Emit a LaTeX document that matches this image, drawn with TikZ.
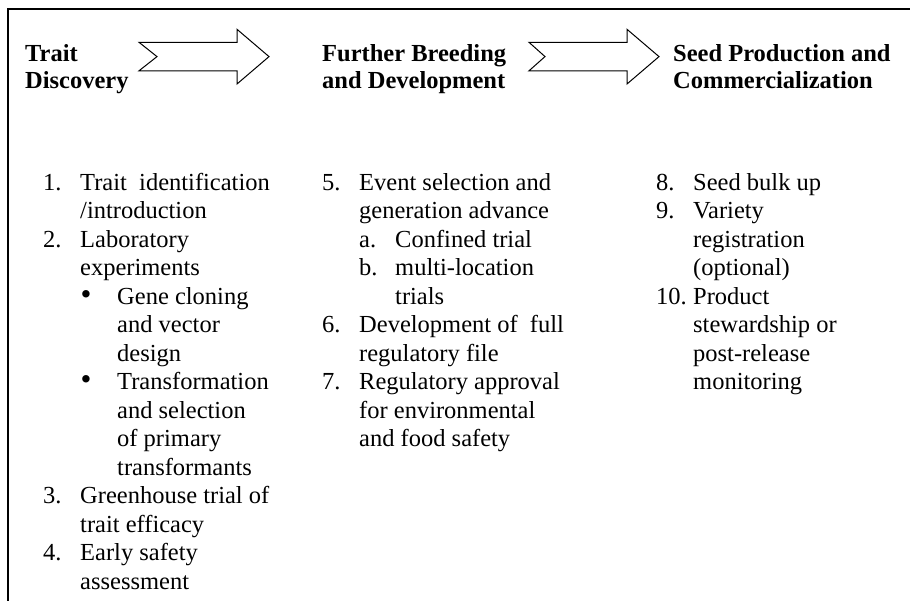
\documentclass[tikz,border=0pt]{standalone}
\usepackage{fontspec}
\setmainfont{Liberation Serif}
\begin{document}
\begin{tikzpicture}[x=1pt,y=-1pt,
  txt/.style={anchor=base west,inner sep=0pt,font=\fontsize{24.5}{28.5}\selectfont},
  head/.style={txt,font=\fontsize{24.5}{28.5}\selectfont\bfseries},
  bul/.style={anchor=base,inner sep=0pt,font=\fontsize{31}{31}\selectfont},
  bigarrow/.style={draw=black,line width=1pt,fill=white,line join=miter}]
\useasboundingbox (0,0) rectangle (910,600);
% frame (only top and left edges fall inside the picture)
\draw[line width=1.3pt] (8,620) -- (8,9) -- (930,9);
% headings
\node[head] (h1a) at (25,61) {Trait};
\node[head] (h1b) at (25,88.5) {Discovery};
\node[head] (h2a) at (322,61) {Further Breeding};
\node[head] (h2b) at (322,88.5) {and Development};
\node[head] (h3a) at (673,61) {Seed Production and};
\node[head] (h3b) at (673,88.5) {Commercialization};
% arrows
\draw[bigarrow] (139,42.3) -- (237,42.3) -- (237,29.3) -- (269,56.6) -- (237,84) -- (237,70.8) -- (139,70.8) -- (157,56.6) -- cycle;
\draw[bigarrow] (529,42.3) -- (627,42.3) -- (627,29.3) -- (659,56.6) -- (627,84) -- (627,70.8) -- (529,70.8) -- (545,56.6) -- cycle;
% column 1
\node[txt] (n1) at (43,190) {1.};
\node[txt] (t1a) at (80,190) {Trait\ \ identification};
\node[txt] (t1b) at (80,218.5) {/introduction};
\node[txt] (n2) at (43,247) {2.};
\node[txt] (t2a) at (80,247) {Laboratory};
\node[txt] (t2b) at (80,275.5) {experiments};
\node[bul] (b1) at (86,304) {•};
\node[txt] (t2c) at (117,304) {Gene cloning};
\node[txt] (t2d) at (117,332.5) {and vector};
\node[txt] (t2e) at (117,361) {design};
\node[bul] (b2) at (86,389.5) {•};
\node[txt] (t2f) at (117,389.5) {Transformation};
\node[txt] (t2g) at (117,418) {and selection};
\node[txt] (t2h) at (117,446.5) {of primary};
\node[txt] (t2i) at (117,475) {transformants};
\node[txt] (n3) at (43,503.5) {3.};
\node[txt] (t3a) at (80,503.5) {Greenhouse trial of};
\node[txt] (t3b) at (80,532) {trait efficacy};
\node[txt] (n4) at (43,560.5) {4.};
\node[txt] (t4a) at (80,560.5) {Early safety};
\node[txt] (t4b) at (80,589) {assessment};
% column 2
\node[txt] (n5) at (322,190) {5.};
\node[txt] (t5a) at (359,190) {Event selection and};
\node[txt] (t5b) at (359,218.5) {generation advance};
\node[txt] (la) at (359,247) {a.};
\node[txt] (t5c) at (395,247) {Confined trial};
\node[txt] (lb) at (359,275.5) {b.};
\node[txt] (t5d) at (395,275.5) {multi-location};
\node[txt] (t5e) at (395,304) {trials};
\node[txt] (n6) at (322,332.5) {6.};
\node[txt] (t6a) at (359,332.5) {Development of\ \ full};
\node[txt] (t6b) at (359,361) {regulatory file};
\node[txt] (n7) at (322,389.5) {7.};
\node[txt] (t7a) at (359,389.5) {Regulatory approval};
\node[txt] (t7b) at (359,418) {for environmental};
\node[txt] (t7c) at (359,446.5) {and food safety};
% column 3
\node[txt] (n8) at (656,190) {8.};
\node[txt] (t8a) at (693,190) {Seed bulk up};
\node[txt] (n9) at (656,218.5) {9.};
\node[txt] (t9a) at (693,218.5) {Variety};
\node[txt] (t9b) at (693,247) {registration};
\node[txt] (t9c) at (693,275.5) {(optional)};
\node[txt] (n10) at (656,304) {10.};
\node[txt] (t10a) at (693,304) {Product};
\node[txt] (t10b) at (693,332.5) {stewardship or};
\node[txt] (t10c) at (693,361) {post-release};
\node[txt] (t10d) at (693,389.5) {monitoring};
\end{tikzpicture}
\end{document}
